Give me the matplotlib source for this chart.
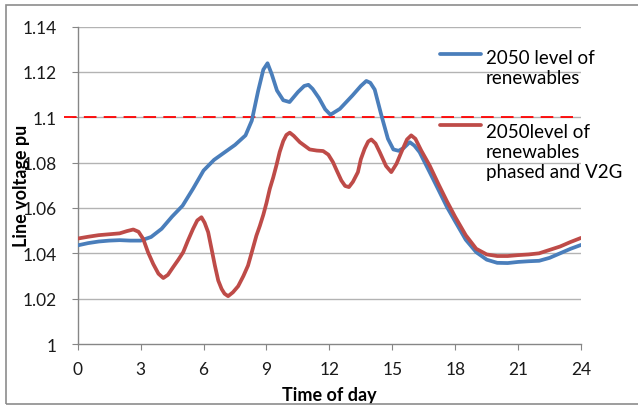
import numpy as np
import matplotlib
matplotlib.use('Agg')
import matplotlib.pyplot as plt
from matplotlib.legend_handler import HandlerLine2D
from matplotlib.patches import Rectangle

# time of day (hours) and line voltage (pu)
hours_base = [0, 0.5, 1, 1.5, 2, 2.5, 3, 3.5, 4, 4.5, 5, 5.5, 6, 6.5, 7, 7.5, 8,
              8.3, 8.6, 8.85, 9.05, 9.25, 9.5, 9.8, 10.1, 10.5, 10.8, 11.0, 11.2,
              11.5, 11.8, 12.05, 12.5, 13.1, 13.5, 13.76, 13.95, 14.16, 14.48,
              14.79, 15.05, 15.3, 15.55, 15.83, 16.05, 16.3, 16.78, 17.2, 17.6,
              18, 18.5, 19, 19.5, 20, 20.5, 21, 21.5, 22, 22.5, 23, 23.5, 24]
volt_base = [1.0435, 1.0445, 1.0452, 1.0456, 1.0458, 1.0456, 1.0456, 1.0472,
             1.0508, 1.0562, 1.061, 1.0685, 1.0765, 1.0812, 1.0845, 1.0878, 1.092,
             1.0985, 1.1115, 1.121, 1.1238, 1.119, 1.1118, 1.1075, 1.1067, 1.1111,
             1.1138, 1.1143, 1.1125, 1.1085, 1.1035, 1.1011, 1.1037, 1.1096,
             1.1138, 1.116, 1.1152, 1.1122, 1.1008, 1.0905, 1.0858, 1.0852,
             1.0865, 1.089, 1.0875, 1.0846, 1.0758, 1.068, 1.0605, 1.054, 1.046,
             1.0405, 1.0372, 1.0358, 1.0357, 1.0362, 1.0365, 1.0367, 1.038,
             1.040, 1.042, 1.0437]

hours_v2g = [0, 0.5, 1, 1.5, 2, 2.35, 2.65, 2.9, 3.12, 3.35, 3.6, 3.85, 4.08,
             4.3, 4.55, 4.8, 5.03, 5.25, 5.5, 5.7, 5.9, 6.05, 6.22, 6.38, 6.54,
             6.7, 6.86, 7.0, 7.17, 7.4, 7.65, 7.9, 8.12, 8.3, 8.52, 8.68, 8.85,
             9.0, 9.16, 9.32, 9.48, 9.63, 9.8, 9.95, 10.11, 10.3, 10.59, 11.06,
             11.4, 11.7, 11.95, 12.17, 12.35, 12.57, 12.75, 12.93, 13.12, 13.36,
             13.5, 13.68, 13.85, 14.0, 14.2, 14.4, 14.7, 14.95, 15.2, 15.43,
             15.7, 15.9, 16.1, 16.38, 16.78, 17.2, 17.6, 18, 18.5, 19, 19.5, 20,
             20.5, 21, 21.5, 22, 22.5, 23, 23.5, 24]
volt_v2g = [1.0465, 1.0473, 1.0480, 1.0484, 1.0488, 1.0498, 1.0505, 1.0495,
            1.0464, 1.0405, 1.0353, 1.031, 1.0291, 1.0305, 1.0339, 1.0372,
            1.0405, 1.0455, 1.0508, 1.0545, 1.0559, 1.0535, 1.0493, 1.042,
            1.0346, 1.028, 1.0243, 1.0222, 1.0211, 1.0228, 1.0255, 1.030,
            1.0346, 1.0405, 1.0478, 1.052, 1.057, 1.0622, 1.0685, 1.0734, 1.079,
            1.0847, 1.0895, 1.0922, 1.0932, 1.0918, 1.089, 1.0858, 1.0853,
            1.0851, 1.0835, 1.0802, 1.0765, 1.0721, 1.0697, 1.0692, 1.0715,
            1.0758, 1.0815, 1.0861, 1.0893, 1.0902, 1.0884, 1.0846, 1.0785,
            1.0758, 1.0795, 1.0846, 1.0902, 1.092, 1.0905, 1.0853, 1.0787,
            1.0705, 1.063, 1.056, 1.048, 1.042, 1.0395, 1.0388, 1.0388, 1.0392,
            1.0395, 1.040, 1.0415, 1.043, 1.045, 1.0468]

limit_x = [-0.65, 23.6]
limit_y = [1.1, 1.1]

xticks = [0, 3, 6, 9, 12, 15, 18, 21, 24]
yticks = [1, 1.02, 1.04, 1.06, 1.08, 1.1, 1.12, 1.14]
ylabels = ['1', '1.02', '1.04', '1.06', '1.08', '1.1', '1.12', '1.14']

label_base = '2050 level of\nrenewables'
label_v2g = '2050level of\nrenewables\nphased and V2G'

plt.rcParams['font.family'] = ['Lato', 'DejaVu Sans']

blue = '#4A7EBB'
red = '#BE4B48'
grid = '#B3B3B3'


class ShiftedLine(HandlerLine2D):
    # lift the key line up to the first row of a multi-line label
    def __init__(self, shift, **kw):
        super().__init__(**kw)
        self.shift = shift

    def create_artists(self, legend, orig_handle, xdescent, ydescent,
                       width, height, fontsize, trans):
        arts = super().create_artists(legend, orig_handle, xdescent, ydescent,
                                      width, height, fontsize, trans)
        for a in arts:
            a.set_ydata(np.asarray(a.get_ydata()) + self.shift)
        return arts


fig = plt.figure(figsize=(6.38, 4.06), dpi=100)
ax = fig.add_axes([0.1218, 0.1502, 0.789, 0.782])

for y in yticks[1:]:
    ax.axhline(y, color=grid, lw=1.0, zorder=0)

l1, = ax.plot(hours_base, volt_base, color=blue, lw=2.7,
              solid_joinstyle='round', solid_capstyle='round', zorder=3)
l2, = ax.plot(hours_v2g, volt_v2g, color=red, lw=2.7,
              solid_joinstyle='round', solid_capstyle='round', zorder=3)
ax.plot(limit_x, limit_y, color='#FF0000', lw=1.3, dashes=(7, 4), clip_on=False, zorder=2)

ax.set_xlim(0, 24)
ax.set_ylim(1, 1.14)
ax.set_xticks(xticks)
ax.set_yticks(yticks)
ax.set_yticklabels(ylabels)
ax.tick_params(axis='both', direction='out', length=4, color='#868686',
               labelsize=12.5, labelcolor='#1a1a1a')
ax.tick_params(axis='x', pad=8)
ax.tick_params(axis='y', pad=11)
for s in ['top', 'right']:
    ax.spines[s].set_visible(False)
for s in ['left', 'bottom']:
    ax.spines[s].set_color('#868686')
    ax.spines[s].set_linewidth(1.0)

ax.set_xlabel('Time of day', fontsize=13, fontweight='bold')
ax.set_ylabel('Line voltage pu', fontsize=13, fontweight='bold')
ax.xaxis.set_label_coords(0.5, -0.132)
ax.yaxis.set_label_coords(-0.095, 0.5)

ax.legend([l1, l2], [label_base, label_v2g], loc='upper left',
          bbox_to_anchor=(0.72, 0.93), frameon=False, fontsize=13.5,
          handlelength=2.2, handletextpad=0.25, labelspacing=2.0,
          borderaxespad=0, borderpad=0,
          handler_map={l1: ShiftedLine(9.5), l2: ShiftedLine(19)})

fig.patches.append(Rectangle((6 / 638, 1 / 406), 1.2, 399 / 406, transform=fig.transFigure,
                             fill=False, edgecolor='#8c8c8c', lw=1.2))

fig.savefig('out.png', dpi=100)
